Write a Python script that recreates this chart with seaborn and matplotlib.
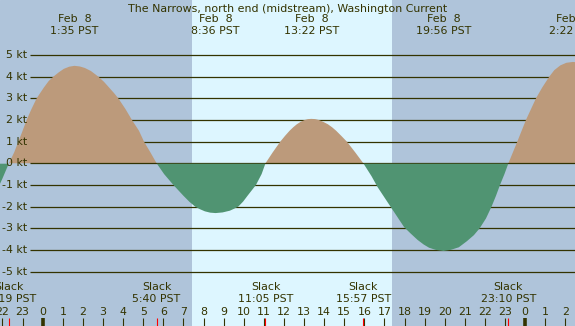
import matplotlib
matplotlib.use("Agg")
import matplotlib.pyplot as plt
import seaborn as sns
import pandas as pd

# current speed (kt), hours from midnight Feb 8
hours = [-2.3, -2.0, -1.68, -1.42, -1.21, -1.0, -0.80, -0.56, -0.30, 0.06, 0.30, 0.53,
         0.80, 1.05, 1.32, 1.58, 1.85, 2.10, 2.40, 2.77, 3.05, 3.30, 3.55, 3.76,
         4.12, 4.44, 4.79, 5.04, 5.36, 5.667,
         6.04, 6.50, 7.00, 7.30, 7.58, 7.82, 8.07, 8.33, 8.60, 8.95, 9.31, 9.52,
         9.73, 9.97, 10.19, 10.61, 10.89, 11.083,
         11.44, 11.82, 12.05, 12.28, 12.46, 12.64, 12.84, 13.04, 13.20, 13.367,
         13.55, 13.73, 13.96, 14.19, 14.40, 14.60, 14.86, 15.13, 15.55, 15.95,
         16.36, 16.66, 17.30, 17.98, 18.30, 18.65, 18.95, 19.22, 19.55, 19.933,
         20.30, 20.70, 21.10, 21.45, 21.74, 22.05, 22.33, 22.55, 22.75, 22.97, 23.167,
         23.61, 24.04, 24.54, 24.85, 25.20, 25.45, 25.75, 26.05, 26.37, 26.6]
speeds = [-1.3, -0.7, 0.0, 0.5, 1.0, 1.5, 2.0, 2.5, 3.0, 3.5, 3.8, 4.0,
          4.2, 4.36, 4.46, 4.5, 4.47, 4.4, 4.26, 4.0, 3.76, 3.5, 3.24, 3.0,
          2.5, 2.0, 1.5, 1.0, 0.5, 0.0,
          -0.5, -1.0, -1.5, -1.78, -2.0, -2.12, -2.22, -2.28, -2.3, -2.27, -2.19, -2.1,
          -2.0, -1.77, -1.5, -1.0, -0.5, 0.0,
          0.5, 1.0, 1.26, 1.5, 1.66, 1.8, 1.92, 2.0, 2.04, 2.05,
          2.04, 2.0, 1.91, 1.8, 1.66, 1.5, 1.26, 1.0, 0.5, 0.0,
          -0.6, -1.1, -2.0, -2.95, -3.24, -3.54, -3.75, -3.9, -4.0, -4.05,
          -4.0, -3.88, -3.6, -3.32, -3.0, -2.55, -2.0, -1.5, -1.0, -0.5, 0.0,
          1.0, 2.0, 3.0, 3.5, 4.0, 4.3, 4.52, 4.64, 4.68, 4.66]

# max flood / ebb events (top labels)
max_hours = [1.583, 8.6, 13.367, 19.933, 26.367]
max_dates = ["Feb  8", "Feb  8", "Feb  8", "Feb  8", "Feb  9"]
max_times = ["1:35 PST", "8:36 PST", "13:22 PST", "19:56 PST", "2:22 PST"]

# slack events (bottom labels)
slack_hours = [-1.683, 5.667, 11.083, 15.95, 23.167]
slack_times = ["22:19 PST", "5:40 PST", "11:05 PST", "15:57 PST", "23:10 PST"]

sunrise = 7.43
sunset = 17.38

kt_levels = list(range(-5, 6))
hour_ticks = list(range(-2, 27))
hour_labels = [str(h % 24) for h in hour_ticks]

night = "#afc4da"
day = "#ddf6ff"
flood = "#bc9a7b"
ebb = "#509472"
ink = "#333300"

sns.set_style("white")
plt.rcParams["font.family"] = ["DejaVu Sans"]

df = pd.DataFrame({"hour": hours, "kt": speeds})

fig = plt.figure(figsize=(5.75, 3.26), dpi=100)
ax = fig.add_axes([0, 0, 1, 1])
x0, x1 = -2.124, 26.48
y0, y1 = -7.515, 7.54
ax.set_xlim(x0, x1)
ax.set_ylim(y0, y1)
ax.axis("off")
ax.add_patch(plt.Rectangle((x0, y0), x1 - x0, y1 - y0, color=night, zorder=0))
ax.axvspan(sunrise, sunset, color=day, zorder=1, lw=0)

# grid lines sit under the fills, the zero line shows under the flood part only
ax.hlines([k for k in kt_levels if k != 0], -0.632, x1, color=ink, lw=0.9, zorder=2)
for k in kt_levels:
    ax.text(-0.75, k, f"{k} kt", ha="right", va="center", fontsize=7.9,
            color=ink, zorder=6)

ax.fill_between(df["hour"], df["kt"], 0, where=df["kt"] >= 0, interpolate=True,
                color=flood, lw=0, zorder=3)
ax.hlines(0, -0.632, x1, color=ink, lw=0.9, zorder=3.5)
ax.fill_between(df["hour"], df["kt"], -0.02, where=df["kt"] <= 0, interpolate=True,
                color=ebb, lw=0, zorder=4)

ax.text((x0 + x1) / 2, 7.12, "The Narrows, north end (midstream), Washington Current",
        ha="center", va="center", fontsize=7.9, color=ink, zorder=6)
for h, d, t in zip(max_hours, max_dates, max_times):
    ax.text(h, 6.65, d, ha="center", va="center", fontsize=7.9, color=ink, zorder=6)
    ax.text(h, 6.1, t, ha="center", va="center", fontsize=7.9, color=ink, zorder=6)

for h, t in zip(slack_hours, slack_times):
    ax.text(h, -5.72, "Slack", ha="center", va="center", fontsize=7.9, color=ink, zorder=6)
    ax.text(h, -6.28, t, ha="center", va="center", fontsize=7.9, color=ink, zorder=6)

tick_top = -7.15
for h, lab in zip(hour_ticks, hour_labels):
    ax.text(h, -6.85, lab, ha="center", va="center", fontsize=7.9, color=ink, zorder=6)
    lw = 2.6 if h % 24 == 0 else 0.8
    ax.vlines(h, y0, tick_top, color=ink, lw=lw, zorder=5)
ax.vlines(slack_hours, y0, tick_top, color="red", lw=0.8, zorder=5)

fig.savefig("out.png", dpi=100)
